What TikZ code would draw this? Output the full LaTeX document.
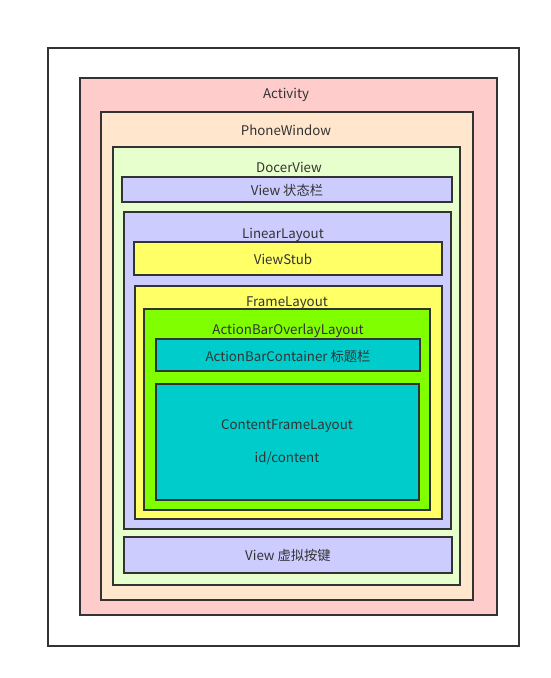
\documentclass[tikz,border=0pt]{standalone}
\usepackage{fontspec}
\setmainfont{Noto Sans CJK SC}
\definecolor{edge}{HTML}{333333}
\definecolor{actred}{HTML}{FFCCCC}
\definecolor{winorange}{HTML}{FFE6CC}
\definecolor{decorgreen}{HTML}{E6FFCC}
\definecolor{viewblue}{HTML}{CCCCFF}
\definecolor{stubyellow}{HTML}{FFFF66}
\definecolor{barlime}{HTML}{80FF00}
\definecolor{contentcyan}{HTML}{00CCCC}
\tikzset{
  layer/.style={draw=edge, line width=1.5pt},
  title/.style={text=edge, font=\fontsize{13.3}{15}\selectfont, inner sep=0pt, yshift=-1.5pt}
}

\begin{document}
\begin{tikzpicture}[x=1pt,y=-1pt]
  \useasboundingbox (0,0) rectangle (551,678);
  % window levels, outside in
  \draw[layer, fill=white] (48,48) rectangle (519,646);
  \draw[layer, fill=actred] (80,78) rectangle (497,615);
  \draw[layer, fill=winorange] (101,112) rectangle (473,600);
  \draw[layer, fill=decorgreen] (113,147) rectangle (460,585);
  \draw[layer, fill=viewblue] (122,177) rectangle (452,202);
  \draw[layer, fill=viewblue] (124,212) rectangle (451,529);
  \draw[layer, fill=stubyellow] (134,242) rectangle (442,275);
  \draw[layer, fill=stubyellow] (135,286) rectangle (442,519);
  \draw[layer, fill=barlime] (144,309) rectangle (430,510);
  \draw[layer, fill=contentcyan] (156,339) rectangle (420,371);
  \draw[layer, fill=contentcyan] (156,384) rectangle (419,500);
  \draw[layer, fill=viewblue] (124,537) rectangle (452,573);
  % labels
  \node[title] (activity) at (286,93) {Activity};
  \node[title] (phonewindow) at (286,129) {PhoneWindow};
  \node[title] (decorview) at (289,166) {DocerView};
  \node[title] (statusbar) at (287,189) {View 状态栏};
  \node[title] (linear) at (283,233) {LinearLayout};
  \node[title] (viewstub) at (283,258) {ViewStub};
  \node[title] (frame) at (287,302) {FrameLayout};
  \node[title] (overlay) at (288,329) {ActionBarOverlayLayout};
  \node[title] (container) at (288,355) {ActionBarContainer 标题栏};
  \node[title] (content) at (287,425) {ContentFrameLayout};
  \node[title] (contentid) at (287,457) {id/content};
  \node[title] (navbar) at (288,554) {View 虚拟按键};
\end{tikzpicture}
\end{document}
